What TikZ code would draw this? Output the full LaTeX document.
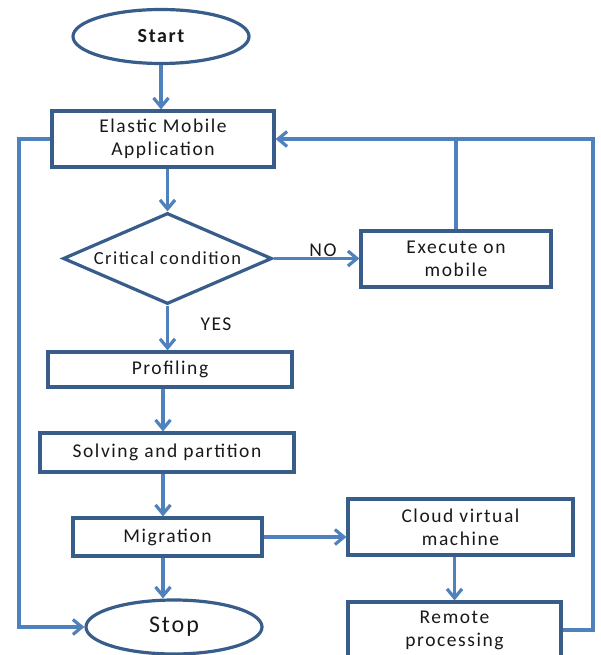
\documentclass[tikz,border=0pt]{standalone}
\usepackage{fontspec}
\setmainfont{Carlito}[LetterSpace=8]
\usetikzlibrary{shapes.geometric,arrows.meta}

\definecolor{edgeblue}{RGB}{79,129,189}
\definecolor{boxblue}{RGB}{56,93,138}
\definecolor{inkdark}{RGB}{25,25,25}

\tikzset{
  box/.style={draw=boxblue, line width=3.2pt, fill=white, inner sep=0pt,
    align=center, text=inkdark, font=\fontsize{19.5}{23}\selectfont},
  terminal/.style={box, ellipse, minimum width=176pt, minimum height=54pt},
  decision/.style={box, diamond, aspect=2.3},
  link/.style={draw=edgeblue, line width=3.2pt},
  arr/.style={link, -{Straight Barb[length=9pt,width=15pt]}},
  lbl/.style={text=inkdark, inner sep=0pt, font=\fontsize{19.5}{23}\selectfont},
}

\begin{document}
\begin{tikzpicture}[x=1pt,y=-1pt]
  \fill[white] (0,0) rectangle (601,655);
  \useasboundingbox (0,0) rectangle (601,655);

  % main column
  \node[terminal, font=\fontsize{20}{24}\selectfont\bfseries] (start) at (161,36.5) {Start};
  \node[box, minimum width=222pt, minimum height=56pt] (elastic) at (163,139) {Elastic Mobile\\Application};
  \node[decision, minimum width=209pt, minimum height=91pt,
        font=\fontsize{18.5}{22}\selectfont] (crit) at (167.5,258.5) {Critical condition};
  \node[box, minimum width=244pt, minimum height=35pt] (prof) at (170,369.5) {Profiling};
  \node[box, minimum width=254pt, minimum height=39pt] (solve) at (167,452.5) {Solving and partition};
  \node[box, minimum width=189pt, minimum height=38pt] (mig) at (167.5,537) {Migration};
  \node[terminal, font=\fontsize{24}{28}\selectfont] (stop) at (174,627) {Stop};

  % right column
  \node[box, minimum width=190pt, minimum height=56pt] (exec) at (456,259) {Execute on\\mobile};
  \node[box, minimum width=225pt, minimum height=56pt] (cloud) at (460.5,527) {Cloud virtual\\machine};
  \node[box, minimum width=213pt, minimum height=56pt] (remote) at (454.5,630) {Remote\\processing};

  % branch labels
  \node[lbl] (no) at (323,250) {NO};
  \node[lbl] (yes) at (216,324) {YES};

  % rails for the return paths
  \coordinate (spine) at (163,0);
  \coordinate (rrail) at (593,139);
  \coordinate (lrail) at (19,139);

  % main flow
  \draw[arr] (start.south) -- (start.south |- elastic.north);
  \draw[arr] (elastic.south -| crit.north) -- (crit.north);
  \draw[arr] (crit.east) -- (crit.east -| exec.west);
  \draw[arr] (crit.south) -- (crit.south |- prof.north);
  \draw[arr] (prof.south -| spine) -- (solve.north -| spine);
  \draw[arr] (solve.south -| spine) -- (mig.north -| spine);
  \draw[arr] (mig.south -| spine) -- (stop.north -| spine);
  \draw[arr] (mig.east) -- (mig.east -| cloud.west);
  \draw[arr] (cloud.south -| remote.north) -- (remote.north);

  % return paths
  \draw[arr] (remote.east) -| (rrail) -- (elastic.east);
  \draw[link] (exec.north) -- (exec.north |- rrail);
  \draw[arr] (elastic.west) -- (lrail) |- (stop.west);
\end{tikzpicture}
\end{document}
